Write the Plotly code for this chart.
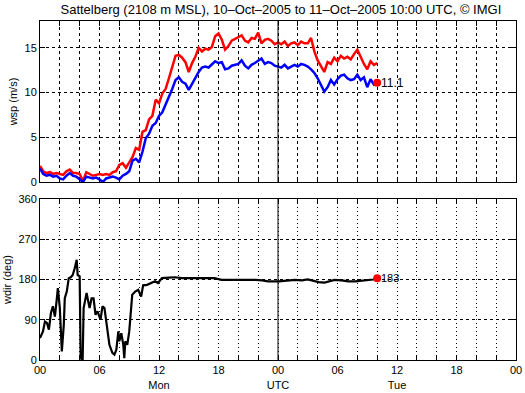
import plotly.graph_objects as go

# ---- data ----
# wind speed, 20-minute samples from 00 UTC Monday (hours since start)
wsp_hours = [i / 3 for i in range(103)]
wsp_mean = [1.5, 0.9, 0.7, 0.8, 0.6, 0.7, 0.4, 0.3, 0.7, 1.0, 0.7, 0.6, 0.3, 0.0, 0.6, 0.5, 0.4, 0.5, 0.3, 0.0,
            0.4, 0.5, 0.6, 0.5, 0.3, 0.7, 0.9, 1.2, 2.4, 2.6, 2.2, 3.4, 4.9, 5.4, 6.3, 6.6, 7.4, 7.8, 8.6, 9.5,
            10.4, 11.4, 11.7, 11.2, 11.0, 10.3, 11.0, 11.6, 12.3, 12.8, 12.9, 12.8, 13.1, 13.5, 13.3, 13.4, 12.6, 12.7, 13.0, 13.1,
            13.2, 13.6, 13.0, 12.7, 13.1, 13.3, 13.6, 13.8, 13.2, 13.4, 13.3, 13.0, 12.9, 12.8, 13.1, 12.7, 12.9, 13.1, 12.9, 13.2,
            13.1, 12.9, 12.6, 12.2, 11.6, 10.9, 10.1, 10.6, 11.4, 10.9, 11.5, 11.9, 12.0, 11.6, 11.4, 11.5, 12.0, 11.4, 11.7, 10.6,
            11.5, 10.9, 11.1]
wsp_gust = [1.8, 1.2, 1.0, 1.1, 0.9, 1.0, 0.9, 0.8, 1.2, 1.4, 1.0, 1.0, 0.9, 0.1, 1.1, 0.9, 0.7, 0.8, 0.9, 0.8,
            0.9, 0.8, 1.1, 1.2, 1.9, 2.1, 1.6, 2.2, 2.8, 3.8, 3.6, 5.6, 5.8, 7.0, 7.4, 9.2, 8.8, 9.9, 10.4, 11.6,
            12.8, 14.1, 14.2, 13.9, 13.4, 12.3, 13.3, 14.0, 15.0, 14.6, 14.9, 14.8, 15.1, 16.3, 16.6, 15.9, 14.8, 15.2, 15.8, 16.0,
            16.2, 16.4, 15.8, 15.6, 16.1, 16.0, 16.7, 15.5, 15.9, 16.0, 15.8, 15.4, 15.6, 15.4, 15.7, 15.2, 15.5, 15.6, 15.3, 15.7,
            15.5, 15.5, 16.1, 14.6, 13.6, 13.0, 12.3, 13.4, 13.2, 13.9, 13.5, 14.1, 13.8, 14.0, 13.7, 14.3, 14.8, 14.0, 13.2, 12.6,
            13.5, 13.1, 13.3]

# wind direction
wdir_hours = [0.0, 0.3, 0.5, 0.7, 0.9, 1.1, 1.3, 1.5, 1.7, 1.8, 2.0, 2.1, 2.2, 2.4, 2.5, 2.7, 2.9, 3.1, 3.3, 3.5,
              3.7, 3.8, 4.0, 4.1, 4.3, 4.4, 4.6, 4.7, 4.8, 5.0, 5.2, 5.4, 5.6, 5.8, 6.1, 6.3, 6.5, 6.8, 7.0, 7.3,
              7.5, 7.7, 7.9, 8.0, 8.2, 8.4, 8.5, 8.6, 8.8, 9.0, 9.3, 9.6, 9.9, 10.2, 10.4, 10.8, 11.3, 11.6, 11.9, 12.3,
              13.0, 13.6, 14.3, 15.0, 15.8, 16.6, 17.6, 18.3, 19.0, 20.0, 20.8, 21.7, 22.4, 23.0, 24.1, 24.8, 25.7, 26.4, 27.0, 27.6,
              28.1, 28.7, 29.2, 29.7, 30.4, 31.1, 31.8, 32.5, 33.1, 33.6, 34.0]
wdir = [49, 64, 86, 83, 68, 105, 120, 97, 138, 161, 116, 64, 19, 79, 138, 153, 183, 185, 190, 205,
        224, 190, 187, 4, 0, 116, 145, 150, 138, 116, 138, 138, 101, 109, 90, 120, 116, 71, 34, 16,
        12, 23, 64, 42, 60, 34, 4, 42, 34, 64, 146, 153, 157, 142, 167, 168, 172, 176, 172, 183,
        184, 185, 183, 183, 184, 184, 183, 179, 179, 179, 180, 179, 178, 176, 176, 178, 179, 178, 180, 177,
        174, 173, 176, 179, 178, 176, 176, 178, 179, 180, 183]

tick_hours = [0, 6, 12, 18, 24, 30, 36, 42, 48]
tick_labels = ["00", "06", "12<br>Mon", "18", "00<br>UTC", "06", "12<br>Tue", "18", "00"]
last_wsp = 11.1
last_wdir = 183
last_hour = 34

FONT = "Liberation Sans, Arial, Helvetica, sans-serif"

fig = go.Figure()
fig.add_trace(go.Scatter(x=wsp_hours, y=wsp_gust, mode="lines", line=dict(color="#ff0000", width=2.5),
                         xaxis="x", yaxis="y", showlegend=False))
fig.add_trace(go.Scatter(x=wsp_hours, y=wsp_mean, mode="lines", line=dict(color="#0000ff", width=2.5),
                         xaxis="x", yaxis="y", showlegend=False))
fig.add_trace(go.Scatter(x=[last_hour], y=[last_wsp], mode="markers", marker=dict(color="#ff0000", size=8),
                         xaxis="x", yaxis="y", showlegend=False))
fig.add_trace(go.Scatter(x=wdir_hours, y=wdir, mode="lines", line=dict(color="black", width=2.2),
                         xaxis="x2", yaxis="y2", showlegend=False))
fig.add_trace(go.Scatter(x=[last_hour], y=[last_wdir], mode="markers", marker=dict(color="#ff0000", size=8),
                         xaxis="x2", yaxis="y2", showlegend=False))


def xax(domain_anchor, labels, gdash):
    return dict(range=[0, 48], anchor=domain_anchor, tickvals=tick_hours,
                ticktext=tick_labels if labels else None, showticklabels=labels,
                ticks="inside", ticklen=5, tickcolor="black", mirror="ticks",
                showline=True, linecolor="black", linewidth=1, automargin=False,
                showgrid=True, gridcolor="black", gridwidth=1, griddash=gdash,
                minor=dict(dtick=2, ticks="inside", ticklen=5, tickcolor="black",
                           showgrid=True, gridcolor="black", gridwidth=1, griddash=gdash),
                zeroline=False, tickfont=dict(size=11, color="black", family=FONT), fixedrange=True)


def yax(domain, anchor, rng, vals, title):
    return dict(domain=domain, anchor=anchor, range=rng, tickvals=vals,
                ticks="inside", ticklen=5, tickcolor="black", mirror="ticks",
                showline=True, linecolor="black", linewidth=1, automargin=False,
                showgrid=True, gridcolor="black", gridwidth=1, griddash="3px,3px", zeroline=False,
                title=dict(text=title, standoff=4, font=dict(size=11, color="black", family=FONT)),
                tickfont=dict(size=11, color="black", family=FONT), fixedrange=True)


fig.update_layout(
    width=525, height=393,
    margin=dict(l=40, r=9, t=21, b=33, autoexpand=False),
    paper_bgcolor="white", plot_bgcolor="white",
    font=dict(family=FONT, size=11, color="black"),
    hovermode=False,
    title=dict(text="Sattelberg (2108 m MSL), 10\u2013Oct\u20132005 to 11\u2013Oct\u20132005 10:00 UTC, \u00a9 IMGI",
               x=0.535, xanchor="center", y=0.976, yanchor="middle", font=dict(size=13, color="black", family=FONT)),
    xaxis=xax("y", False, "3px,3px"),
    xaxis2=xax("y2", True, "1px,3px"),
    yaxis=yax([0.525, 1.0], "x", [0, 18], [0, 5, 10, 15], "wsp (m/s)"),
    yaxis2=yax([0.0, 0.475], "x2", [0, 360], [0, 90, 180, 270, 360], "wdir (deg)"),
    shapes=[
        dict(type="line", xref="x", yref="y domain", x0=24, x1=24, y0=0, y1=1, line=dict(color="black", width=1)),
        dict(type="line", xref="x2", yref="y2 domain", x0=24, x1=24, y0=0, y1=1, line=dict(color="black", width=1)),
    ],
    annotations=[
        dict(x=last_hour, y=last_wsp, xref="x", yref="y", text=f"{last_wsp}", showarrow=False,
             xanchor="left", yanchor="middle", xshift=2, font=dict(size=12, color="black", family=FONT)),
        dict(x=last_hour, y=last_wdir, xref="x2", yref="y2", text=f"{last_wdir}", showarrow=False,
             xanchor="left", yanchor="middle", xshift=2, font=dict(size=11, color="black", family=FONT)),
    ],
)

fig.write_html("out.html", config={"displayModeBar": False},
               post_script="document.body.style.margin='0px';")
